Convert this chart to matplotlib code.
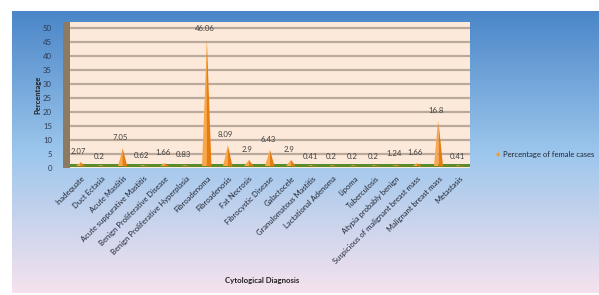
import numpy as np
import matplotlib
matplotlib.use("Agg")
import matplotlib.pyplot as plt
from matplotlib.patches import Polygon, Rectangle

plt.rcParams['font.family'] = ['Lato', 'DejaVu Sans']

categories = ["Inadequate", "Duct Ectasia", "Acute Mastitis", "Acute suppurative Mastitis",
              "Benign Proliferative Disease", "Benign Proliferative Hyperplasia", "Fibroadenoma",
              "Fibroadenosis", "Fat Necrosis", "Fibrocystic Disease", "Galactocele",
              "Granulomatous Mastitis", "Lactational Adenoma", "Lipoma", "Tuberculosis",
              "Atypia probably benign", "Suspicious of malignant breast mass",
              "Malignant breast mass", "Metastasis"]
values = [2.07, 0.2, 7.05, 0.62, 1.66, 0.83, 46.06, 8.09, 2.9, 6.43, 2.9, 0.41, 0.2, 0.2, 0.2,
          1.24, 1.66, 16.8, 0.41]
value_labels = ["2.07", "0.2", "7.05", "0.62", "1.66", "0.83", "46.06", "8.09", "2.9", "6.43", "2.9",
                "0.41", "0.2", "0.2", "0.2", "1.24", "1.66", "16.8", "0.41"]
yticks = [0, 5, 10, 15, 20, 25, 30, 35, 40, 45, 50]
series_name = "Percentage of female cases"

W, H = 599, 295
fig = plt.figure(figsize=(W / 100, H / 100), dpi=100)
fig.patch.set_facecolor("white")

# background gradient
bg = fig.add_axes([12 / W, 2 / H, 1 - 12 / W, (293 - 11) / H])
bg.set_axis_off()
top = np.array([0x4a, 0x86, 0xc8]) / 255
mid = np.array([0x9c, 0xc6, 0xec]) / 255
bot = np.array([0xf6, 0xe2, 0xee]) / 255
n = 256
t = np.linspace(0, 1, n)
grad = np.zeros((n, 2, 3))
for i, tt in enumerate(t):
    if tt < 0.5:
        c = top + (mid - top) * (tt / 0.5)
    else:
        c = mid + (bot - mid) * ((tt - 0.5) / 0.5)
    grad[i, :, :] = c
bg.imshow(grad, aspect="auto", extent=[0, 1, 0, 1])
bg.set_xlim(0, 1); bg.set_ylim(0, 1)

def fx(px):
    return px / W
def fy(py):
    return 1 - py / H

left, right, topp, bottom = 70, 470, 22, 168
ax = fig.add_axes([fx(left), fy(bottom), (right - left) / W, (bottom - topp) / H])
ax.set_facecolor("#fde9d9")
ymax = 52.1
ax.set_ylim(0, ymax)
ax.set_xlim(0, len(categories))
for s in ax.spines.values():
    s.set_visible(False)

for y in yticks[1:]:
    ax.axhline(y, color="#b9aa9c", lw=1.6, zorder=1)

# floor
ax.add_patch(Rectangle((0, 0.3), len(categories), 1.3, facecolor="#5b8c2c", edgecolor="none", zorder=2, clip_on=False))

x = np.arange(len(categories)) + 0.5
hw = 0.22
for xi, v, lab in zip(x, values, value_labels):
    base = 0.6
    left_tri = Polygon([(xi - hw, base), (xi, base), (xi, max(v, base + 0.3))], closed=True,
                       facecolor="#f9a74a", edgecolor="none", zorder=3)
    right_tri = Polygon([(xi, base), (xi + hw, base), (xi, max(v, base + 0.3))], closed=True,
                        facecolor="#e57c12", edgecolor="none", zorder=3)
    ax.add_patch(left_tri)
    ax.add_patch(right_tri)
    ax.text(xi - 0.1, v + 2.6, lab, ha="center", va="bottom", fontsize=5.6, color="#404040", zorder=4)

ax.set_yticks(yticks)
ax.set_yticklabels([str(y) for y in yticks], fontsize=5.6, color="#303a50")
ax.tick_params(axis="y", length=0, pad=13)
ax.set_xticks(x)
ax.set_xticklabels(categories, rotation=45, ha="right", rotation_mode="anchor",
                   fontsize=5.5, color="#1f2533")
ax.tick_params(axis="x", length=0, pad=5)

# left wall
wall = fig.add_axes([fx(63), fy(bottom), 7 / W, (bottom - topp) / H])
wall.set_axis_off()
wall.add_patch(Rectangle((0, 0), 1, 1, facecolor="#8c7b62", edgecolor="none", transform=wall.transAxes))

fig.text(fx(38), fy(95), "Percentage", rotation=90, ha="center", va="center",
         fontsize=5.5, fontweight="bold", color="#202020")
fig.text(fx(262), fy(281), "Cytological Diagnosis", ha="center", va="center",
         fontsize=5.6, fontweight="bold", color="#202020")

# legend
fig.text(fx(498), fy(155), "\u25c6", ha="center", va="center", fontsize=4, color="#f39a2a")
fig.text(fx(503), fy(155), series_name, ha="left", va="center", fontsize=5.5, color="#1f2533")

fig.savefig("out.png", dpi=100)
